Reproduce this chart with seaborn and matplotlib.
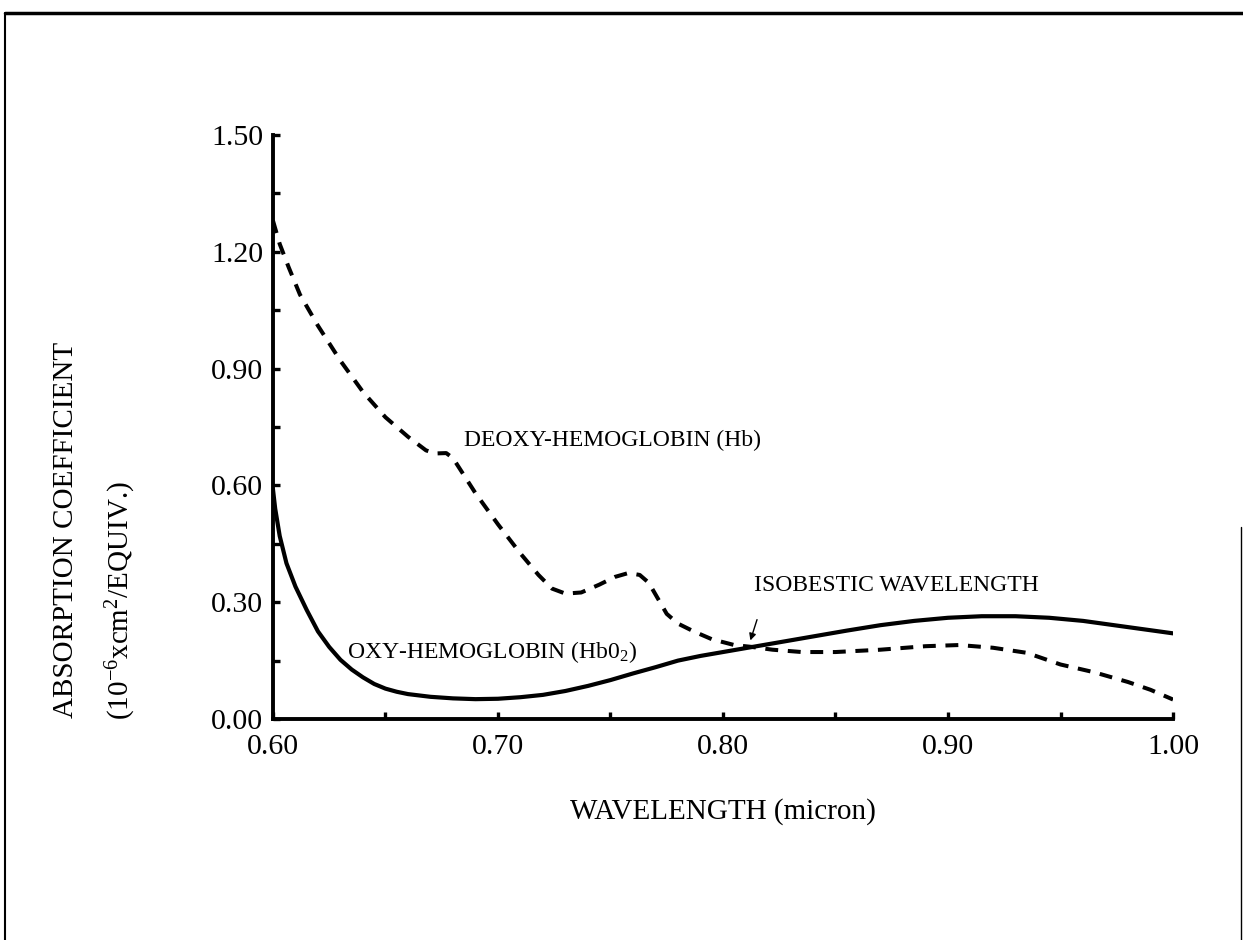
import numpy as np
import pandas as pd
import matplotlib
matplotlib.use("Agg")
import matplotlib.pyplot as plt
from matplotlib.lines import Line2D
import seaborn as sns

# wavelength (micron) and absorption readings
wl_deoxy = [0.600, 0.603, 0.607, 0.612, 0.620, 0.630, 0.640, 0.650, 0.660, 0.668,
            0.672, 0.677, 0.680, 0.685, 0.690, 0.700, 0.710, 0.718, 0.724, 0.730,
            0.737, 0.745, 0.752, 0.758, 0.763, 0.767, 0.771, 0.775, 0.780, 0.787,
            0.795, 0.805, 0.813, 0.822, 0.835, 0.850, 0.870, 0.890, 0.905, 0.920,
            0.935, 0.950, 0.965, 0.980, 0.990, 1.000]
hb_deoxy = [1.28, 1.22, 1.16, 1.09, 1.01, 0.92, 0.84, 0.775, 0.725, 0.69,
            0.682, 0.683, 0.67, 0.625, 0.58, 0.50, 0.425, 0.37, 0.335, 0.322,
            0.325, 0.345, 0.365, 0.375, 0.37, 0.35, 0.31, 0.27, 0.245, 0.225,
            0.205, 0.19, 0.185, 0.178, 0.172, 0.172, 0.178, 0.187, 0.19, 0.183,
            0.17, 0.14, 0.12, 0.095, 0.075, 0.05]

wl_oxy = [0.600, 0.601, 0.603, 0.606, 0.610, 0.615, 0.620, 0.625, 0.630, 0.635,
          0.640, 0.645, 0.650, 0.655, 0.660, 0.670, 0.680, 0.690, 0.700, 0.710,
          0.720, 0.730, 0.740, 0.750, 0.760, 0.770, 0.780, 0.790, 0.800, 0.813,
          0.825, 0.840, 0.855, 0.870, 0.885, 0.900, 0.915, 0.930, 0.945, 0.960,
          0.975, 0.990, 1.000]
hb_oxy = [0.59, 0.54, 0.47, 0.40, 0.34, 0.28, 0.225, 0.185, 0.152, 0.127,
          0.107, 0.09, 0.078, 0.07, 0.064, 0.057, 0.053, 0.051, 0.052, 0.056,
          0.062, 0.072, 0.085, 0.10, 0.117, 0.133, 0.15, 0.162, 0.172, 0.185,
          0.197, 0.212, 0.227, 0.241, 0.252, 0.260, 0.264, 0.264, 0.260, 0.252,
          0.240, 0.228, 0.22]

x_ticks = [0.60, 0.70, 0.80, 0.90, 1.00]
y_ticks = [0.00, 0.30, 0.60, 0.90, 1.20, 1.50]

sns.set_theme(style="ticks")
plt.rcParams["font.family"] = ["Liberation Serif", "DejaVu Serif"]
plt.rcParams["mathtext.fontset"] = "custom"
plt.rcParams["mathtext.rm"] = "Liberation Serif"
plt.rcParams["mathtext.it"] = "Liberation Serif:italic"

fig = plt.figure(figsize=(12.43, 9.40), dpi=100)
ax = fig.add_axes([0.2196, 0.2351, 0.7241, 0.6213])

deoxy = pd.DataFrame({"wl": wl_deoxy, "abs": hb_deoxy})
oxy = pd.DataFrame({"wl": wl_oxy, "abs": hb_oxy})

sns.lineplot(data=deoxy, x="wl", y="abs", ax=ax, color="black", lw=2.9,
             linestyle=(0, (3.2, 2.4)))
sns.lineplot(data=oxy, x="wl", y="abs", ax=ax, color="black", lw=3.0)

ax.set_xlim(0.6, 1.0)
ax.set_ylim(0.0, 1.5)
ax.set_xticks(x_ticks)
ax.set_xticklabels([f"{v:.2f}" for v in x_ticks])
ax.set_xticks(np.arange(0.65, 1.0, 0.1), minor=True)
ax.set_yticks(y_ticks)
ax.set_yticklabels([f"{v:.2f}" for v in y_ticks])
ax.set_yticks(np.arange(0.15, 1.5, 0.3), minor=True)
ax.tick_params(which="both", direction="in", width=2.4, length=5, colors="black")
ax.tick_params(which="major", labelsize=21.5)
ax.tick_params(axis="x", pad=11)
ax.tick_params(axis="y", pad=7)
sns.despine(ax=ax)
for s in ["left", "bottom"]:
    ax.spines[s].set_linewidth(2.8)
    ax.spines[s].set_color("black")
ax.set_xlabel("")
ax.set_ylabel("")

# annotations
ax.text(0.685, 0.715, "DEOXY-HEMOGLOBIN (Hb)", fontsize=17, va="center",
        color="black")
ax.text(0.633, 0.172, "OXY-HEMOGLOBIN (Hb0$_{2}$)", fontsize=17, va="center",
        color="black")
ax.text(0.814, 0.344, "ISOBESTIC WAVELENGTH", fontsize=17, va="center",
        color="black")
ax.annotate("", xy=(0.8118, 0.195), xytext=(0.8155, 0.262),
            arrowprops=dict(arrowstyle="-|>", color="black", lw=1.0,
                            mutation_scale=10))

# axis titles
fig.text(0.582, 1 - 812 / 940, "WAVELENGTH (micron)", fontsize=21,
         ha="center", va="center", color="black")
fig.text(66 / 1243, 1 - 718 / 940, "ABSORPTION COEFFICIENT", fontsize=21,
         rotation=90, ha="center", va="bottom", color="black")
fig.text(121 / 1243, 1 - 720 / 940, "(10$^{-6}$xcm$^{2}$/EQUIV.)", fontsize=21,
         rotation=90, ha="center", va="bottom", color="black")

# scanned page frame
fig.add_artist(Line2D([5 / 1243, 1.0], [1 - 13 / 940] * 2, color="black", lw=2.5))
fig.add_artist(Line2D([5 / 1243] * 2, [0.0, 1 - 13 / 940], color="black", lw=1.5))
fig.add_artist(Line2D([1241 / 1243] * 2, [0.0, 1 - 527 / 940], color="black", lw=1.0))

fig.savefig("out.png", dpi=100)
